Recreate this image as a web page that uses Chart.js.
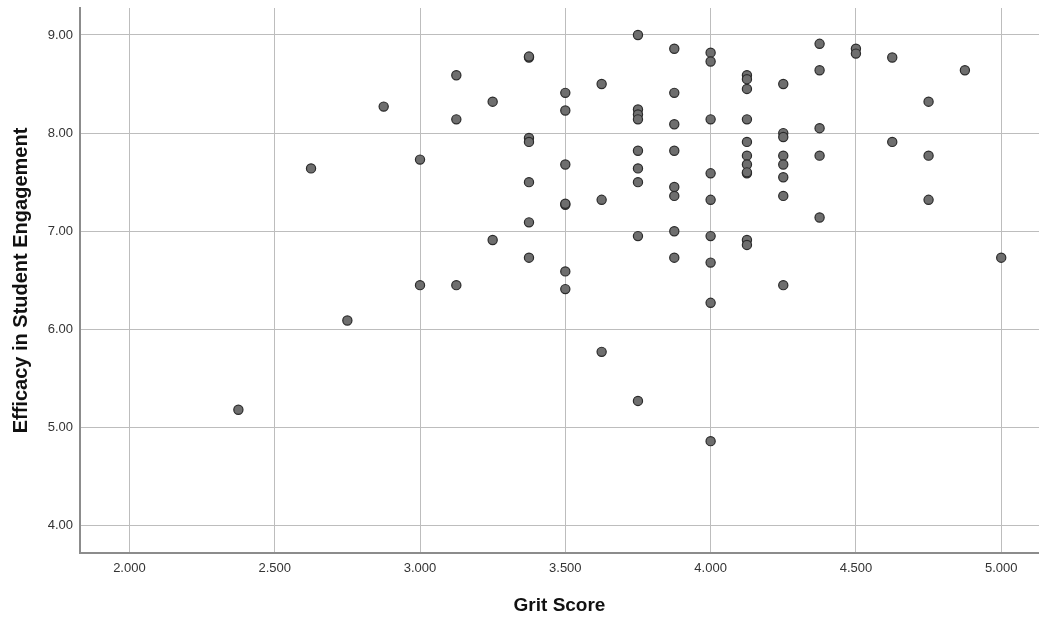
<!DOCTYPE html>
<html>
<head>
<meta charset="utf-8">
<script src="https://cdn.jsdelivr.net/npm/chart.js@4"></script>
<style>
  body { margin: 0; background: #fff; }
  #wrap { width: 1039px; height: 623px; }
</style>
</head>
<body>
<div id="wrap"><canvas id="scatter" width="1039" height="623"></canvas></div>
<script>
// grit score (x) and efficacy in student engagement (y), one entry per respondent
const gritScore = [
  2.375, 2.625, 2.75, 2.875,
  3.0, 3.0,
  3.125, 3.125, 3.125,
  3.25, 3.25,
  3.375, 3.375, 3.375, 3.375, 3.375, 3.375, 3.375,
  3.5, 3.5, 3.5, 3.5, 3.5, 3.5, 3.5,
  3.625, 3.625, 3.625,
  3.75, 3.75, 3.75, 3.75, 3.75, 3.75, 3.75, 3.75, 3.75,
  3.875, 3.875, 3.875, 3.875, 3.875, 3.875, 3.875, 3.875,
  4.0, 4.0, 4.0, 4.0, 4.0, 4.0, 4.0, 4.0, 4.0,
  4.125, 4.125, 4.125, 4.125, 4.125, 4.125, 4.125, 4.125, 4.125, 4.125, 4.125,
  4.25, 4.25, 4.25, 4.25, 4.25, 4.25, 4.25, 4.25,
  4.375, 4.375, 4.375, 4.375, 4.375,
  4.5, 4.5,
  4.625, 4.625,
  4.75, 4.75, 4.75,
  4.875,
  5.0
];
const efficacy = [
  5.18, 7.64, 6.09, 8.27,
  7.73, 6.45,
  8.59, 8.14, 6.45,
  8.32, 6.91,
  8.77, 8.78, 7.95, 7.91, 7.50, 7.09, 6.73,
  8.41, 8.23, 7.68, 7.27, 7.28, 6.59, 6.41,
  8.50, 7.32, 5.77,
  9.00, 8.24, 8.19, 8.14, 7.82, 7.64, 7.50, 6.95, 5.27,
  8.86, 8.41, 8.09, 7.82, 7.45, 7.36, 7.00, 6.73,
  8.82, 8.73, 8.14, 7.59, 7.32, 6.95, 6.68, 6.27, 4.86,
  8.59, 8.55, 8.45, 8.14, 7.91, 7.77, 7.68, 7.59, 7.60, 6.91, 6.86,
  8.50, 8.00, 7.96, 7.77, 7.68, 7.55, 7.36, 6.45,
  8.91, 8.64, 8.05, 7.77, 7.14,
  8.86, 8.81,
  8.77, 7.91,
  8.32, 7.77, 7.32,
  8.64,
  6.73
];

const xTicks = [2.0, 2.5, 3.0, 3.5, 4.0, 4.5, 5.0];
const yTicks = [4, 5, 6, 7, 8, 9];

const points = gritScore.map((g, i) => ({ x: g, y: efficacy[i] }));

const tickFont = { family: '"Liberation Sans", Arial, sans-serif', size: 13 };
const titleFont = { family: '"Liberation Sans", Arial, sans-serif', size: 19, weight: 'bold' };

new Chart(document.getElementById('scatter'), {
  type: 'scatter',
  data: {
    datasets: [{
      data: points,
      backgroundColor: '#6e6e6e',
      borderColor: '#2b2b2b',
      borderWidth: 1.2,
      pointRadius: 4.6
    }]
  },
  options: {
    responsive: false,
    animation: false,
    layout: { autoPadding: false, padding: { top: 8, left: 0, right: 0, bottom: 0 } },
    plugins: { legend: { display: false }, tooltip: { enabled: false } },
    scales: {
      x: {
        type: 'linear',
        min: 1.83,
        max: 5.13,
        afterBuildTicks: s => { s.ticks = xTicks.map(v => ({ value: v })); },
        afterFit: s => { s.height = 70; s.paddingLeft = 0; s.paddingRight = 0; },
        grid: { color: '#bdbdbd', lineWidth: 1, drawTicks: false },
        border: { color: '#8c8c8c', width: 2 },
        ticks: {
          padding: 8,
          color: '#333',
          font: tickFont,
          maxRotation: 0,
          callback: v => Number(v).toFixed(3)
        },
        title: {
          display: true,
          text: 'Grit Score',
          color: '#111',
          font: titleFont,
          padding: { top: 0, bottom: 6 }
        }
      },
      y: {
        type: 'linear',
        min: 3.72,
        max: 9.275,
        afterBuildTicks: s => { s.ticks = yTicks.map(v => ({ value: v })); },
        afterFit: s => { s.width = 80; s.paddingTop = 0; s.paddingBottom = 0; },
        grid: { color: '#bdbdbd', lineWidth: 1, drawTicks: false },
        border: { color: '#8c8c8c', width: 2 },
        ticks: {
          padding: 7,
          color: '#333',
          font: tickFont,
          callback: v => Number(v).toFixed(2)
        },
        title: {
          display: true,
          text: 'Efficacy in Student Engagement',
          color: '#111',
          font: { family: titleFont.family, size: 20, weight: 'bold' },
          padding: { top: 9, bottom: 0 }
        }
      }
    }
  }
});
</script>
</body>
</html>
